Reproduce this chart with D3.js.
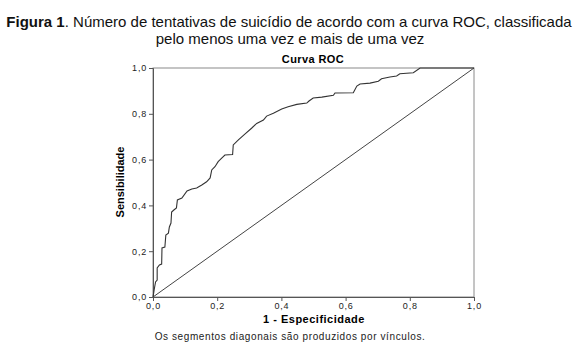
<!DOCTYPE html>
<html>
<head>
<meta charset="utf-8">
<script src="https://cdn.jsdelivr.net/npm/d3@7"></script>
<style>
  body { margin: 0; background: #fff; }
  svg { display: block; font-family: "Liberation Sans", Arial, sans-serif; }
</style>
</head>
<body>
<svg width="577" height="351"></svg>
<script>
// ROC curve points (1 - especificidade, sensibilidade)
var fpr = [0, 0.002, 0.004, 0.008, 0.013, 0.013, 0.020, 0.027, 0.028, 0.037, 0.040, 0.048, 0.051, 0.056,
  0.058, 0.065, 0.073, 0.076, 0.090, 0.106, 0.121, 0.136, 0.152, 0.167, 0.178, 0.183, 0.193, 0.203,
  0.214, 0.224, 0.248, 0.250, 0.266, 0.287, 0.307, 0.323, 0.344, 0.354, 0.375, 0.401, 0.421, 0.448,
  0.479, 0.486, 0.499, 0.526, 0.562, 0.567, 0.624, 0.635, 0.645, 0.676, 0.702, 0.712, 0.738, 0.759,
  0.769, 0.811, 0.832, 1];
var tpr = [0, 0.017, 0.035, 0.066, 0.074, 0.127, 0.140, 0.144, 0.214, 0.218, 0.271, 0.279, 0.306, 0.323,
  0.371, 0.380, 0.389, 0.424, 0.432, 0.463, 0.472, 0.476, 0.489, 0.503, 0.520, 0.555, 0.569, 0.591,
  0.606, 0.620, 0.622, 0.664, 0.686, 0.712, 0.737, 0.758, 0.773, 0.790, 0.802, 0.821, 0.831, 0.841,
  0.847, 0.856, 0.869, 0.873, 0.881, 0.891, 0.892, 0.921, 0.930, 0.934, 0.942, 0.953, 0.961, 0.965,
  0.975, 0.979, 1, 1];
var refLine = [[0, 0], [1, 1]];
var tickVals = [0, 0.2, 0.4, 0.6, 0.8, 1.0];
var tickLabels = ["0,0", "0,2", "0,4", "0,6", "0,8", "1,0"];

var svg = d3.select("svg");

var x = d3.scaleLinear().domain([0, 1]).range([153, 474]);
var y = d3.scaleLinear().domain([0, 1]).range([297, 68]);

// figure caption
var cap = svg.append("text")
  .attr("x", 289).attr("y", 27)
  .attr("text-anchor", "middle")
  .style("font-size", "15px")
  .attr("fill", "#111");
cap.append("tspan").style("font-weight", "bold").text("Figura 1");
cap.append("tspan").text(". Número de tentativas de suicídio de acordo com a curva ROC, classificada");

svg.append("text")
  .attr("x", 290).attr("y", 44)
  .attr("text-anchor", "middle")
  .style("font-size", "15px")
  .attr("fill", "#111")
  .text("pelo menos uma vez e mais de uma vez");

svg.append("text")
  .attr("x", 313).attr("y", 63)
  .attr("text-anchor", "middle")
  .style("font-size", "11px")
  .style("font-weight", "bold")
  .style("letter-spacing", "0.4px")
  .text("Curva ROC");

// frame
svg.append("rect")
  .attr("x", x(0)).attr("y", y(1))
  .attr("width", x(1) - x(0)).attr("height", y(0) - y(1))
  .attr("fill", "none")
  .attr("stroke", "#8a8a8a")
  .attr("stroke-width", 1);

var xAxis = svg.append("g")
  .attr("transform", "translate(0," + y(0) + ")")
  .call(d3.axisBottom(x).tickValues(tickVals).tickSize(4).tickPadding(2)
    .tickFormat(function (d, i) { return tickLabels[i]; }));

var yAxis = svg.append("g")
  .attr("transform", "translate(" + x(0) + ",0)")
  .call(d3.axisLeft(y).tickValues(tickVals).tickSize(4).tickPadding(2)
    .tickFormat(function (d, i) { return tickLabels[i]; }));

[xAxis, yAxis].forEach(function (g) {
  g.select(".domain").attr("stroke", "#555");
  g.selectAll(".tick line").attr("stroke", "#555");
  g.selectAll(".tick text")
    .attr("fill", "#222")
    .style("font-size", "9px")
    .style("letter-spacing", "0.8px")
    .style("font-family", "'Liberation Sans', Arial, sans-serif");
});

// diagonal reference
svg.append("path")
  .datum(refLine)
  .attr("fill", "none")
  .attr("stroke", "#444")
  .attr("stroke-width", 1)
  .attr("d", d3.line().x(function (d) { return x(d[0]); }).y(function (d) { return y(d[1]); }));

// ROC curve
var pts = fpr.map(function (v, i) { return [v, tpr[i]]; });
svg.append("path")
  .datum(pts)
  .attr("fill", "none")
  .attr("stroke", "#333")
  .attr("stroke-width", 1.1)
  .attr("d", d3.line().x(function (d) { return x(d[0]); }).y(function (d) { return y(d[1]); }));

// axis titles
svg.append("text")
  .attr("x", 314).attr("y", 323)
  .attr("text-anchor", "middle")
  .style("font-size", "11px")
  .style("font-weight", "bold")
  .style("letter-spacing", "0.5px")
  .text("1 - Especificidade");

svg.append("text")
  .attr("transform", "translate(124,182) rotate(-90)")
  .attr("text-anchor", "middle")
  .style("font-size", "11px")
  .style("font-weight", "bold")
  .text("Sensibilidade");

svg.append("text")
  .attr("x", 290).attr("y", 340)
  .attr("text-anchor", "middle")
  .style("font-size", "10px")
  .style("letter-spacing", "0.6px")
  .attr("fill", "#222")
  .text("Os segmentos diagonais são produzidos por vínculos.");
</script>
</body>
</html>
